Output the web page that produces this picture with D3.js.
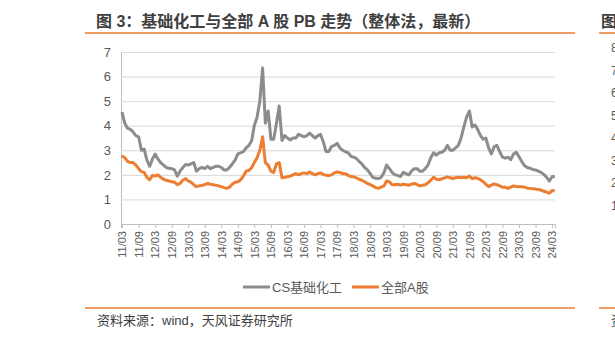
<!DOCTYPE html>
<html>
<head>
<meta charset="utf-8">
<script src="https://cdn.jsdelivr.net/npm/d3@7"></script>
<style>
  body { margin: 0; background: #fff; }
  svg { display: block; font-family: "Liberation Sans", Arial, "Noto Sans CJK SC", sans-serif; }
</style>
</head>
<body>
<svg id="chart" width="615" height="338"></svg>
<script>
// monthly readings, first point = 2011/03
const startMonth = new Date(2011, 2, 1);

const chemPB = [
  4.55, 4.1, 3.9, 3.85, 3.75, 3.6, 3.55, 3.0, 3.05, 2.6, 2.35, 2.65,
  2.85, 2.65, 2.5, 2.4, 2.3, 2.27, 2.25, 2.2, 1.95, 2.15, 2.3, 2.42,
  2.4, 2.45, 2.5, 2.15, 2.25, 2.3, 2.25, 2.35, 2.25, 2.3, 2.35, 2.35,
  2.3, 2.2, 2.2, 2.3, 2.45, 2.6, 2.85, 2.9, 2.95, 3.1, 3.2, 3.4,
  4.0, 4.35, 5.0, 6.35, 4.1, 4.6, 3.45, 3.45, 4.1, 4.8, 3.4, 3.6,
  3.5, 3.42, 3.5, 3.5, 3.65, 3.6, 3.55, 3.6, 3.7, 3.6, 3.5, 3.6,
  3.65, 3.35, 2.95, 2.95, 3.15, 3.2, 3.28, 3.1, 3.0, 2.94, 2.9, 2.75,
  2.72, 2.67, 2.55, 2.45, 2.3, 2.2, 2.05, 1.9, 1.86, 1.85, 1.9, 2.1,
  2.4, 2.25, 2.1, 2.0, 1.98, 1.93, 2.1, 2.05, 2.0, 2.15, 2.25, 2.25,
  2.15, 2.15, 2.25, 2.4, 2.7, 2.9, 2.8, 2.9, 2.92, 3.0, 3.2, 3.0,
  3.0, 3.1, 3.2, 3.5, 3.95, 4.35, 4.6, 3.95, 4.03, 3.85, 3.6, 3.45,
  3.5, 3.1, 2.85, 3.15, 3.2, 2.95, 2.72, 2.68, 2.72, 2.62, 2.85, 2.92,
  2.75, 2.55, 2.38, 2.3, 2.27, 2.22, 2.2, 2.15, 2.1, 2.02, 1.9, 1.75,
  1.92, 1.93
];

const allAPB = [
  2.78, 2.7, 2.55, 2.5, 2.5, 2.4, 2.25, 2.13, 2.1, 1.9, 1.8, 1.98,
  1.95, 2.0, 1.9, 1.82, 1.78, 1.75, 1.72, 1.7, 1.6, 1.65, 1.78, 1.85,
  1.75, 1.7, 1.6, 1.52, 1.55, 1.58, 1.6, 1.65, 1.62, 1.6, 1.58, 1.55,
  1.52, 1.48, 1.45, 1.5, 1.62, 1.7, 1.72, 1.8, 1.95, 2.15, 2.18, 2.3,
  2.5, 2.7, 3.0, 3.55, 2.5, 2.4, 2.15, 2.1, 2.45, 2.5, 1.88, 1.9,
  1.92, 1.95, 2.0, 2.05, 2.0, 2.05, 2.08, 2.05, 2.12, 2.05, 2.0, 2.05,
  2.08, 2.02, 1.98, 1.97, 2.0, 2.08, 2.12, 2.1, 2.05, 2.05, 1.98, 1.93,
  1.92, 1.88, 1.82, 1.78, 1.72, 1.65, 1.6, 1.55, 1.48, 1.45, 1.5, 1.55,
  1.75, 1.72, 1.6, 1.6, 1.62, 1.58, 1.62, 1.6, 1.58, 1.62, 1.65, 1.6,
  1.55, 1.58, 1.6, 1.68, 1.78, 1.9, 1.82, 1.8, 1.84, 1.88, 1.92, 1.88,
  1.85, 1.88, 1.9, 1.88, 1.9, 1.88, 1.95, 1.85, 1.88, 1.86, 1.8, 1.72,
  1.62, 1.52, 1.58, 1.63, 1.6, 1.55, 1.5, 1.5, 1.45, 1.5, 1.55, 1.53,
  1.52, 1.52, 1.5, 1.46, 1.45, 1.43, 1.42, 1.4, 1.38, 1.33, 1.3, 1.25,
  1.36, 1.34
];

const seriesNames = ['CS基础化工', '全部A股'];
const seriesColors = ['#8c8c8c', '#ed7d31'];
const yTicks = [0, 1, 2, 3, 4, 5, 6, 7];
// tick every six months, 11/03 .. 24/03
const xTickDates = d3.range(0, 27).map(i => d3.timeMonth.offset(startMonth, i * 6));

const titleText = '图 3：基础化工与全部 A 股 PB 走势（整体法，最新）';
const sourceText = '资料来源：wind，天风证券研究所';

const svg = d3.select('#chart');

const plot = {left: 121, right: 555, top: 52, bottom: 224};

const x = d3.scaleTime()
    .domain([new Date(2011, 1, 18), new Date(2024, 3, 3)])
    .range([plot.left, plot.right]);
const y = d3.scaleLinear().domain([0, 7]).range([plot.bottom, plot.top]);

const dates = chemPB.map((_, i) => d3.timeMonth.offset(startMonth, i));

// title and rules
svg.append('text')
    .attr('x', 96).attr('y', 27)
    .attr('font-size', 16).attr('font-weight', 'bold')
    .attr('fill', '#404040')
    .text(titleText);
svg.append('line').attr('x1', 85).attr('x2', 575).attr('y1', 33).attr('y2', 33)
    .attr('stroke', '#ed7d31').attr('stroke-width', 1.5);
svg.append('line').attr('x1', 85).attr('x2', 575).attr('y1', 308).attr('y2', 308)
    .attr('stroke', '#ed7d31').attr('stroke-width', 1.5);

// gridlines + y axis
const yAxis = svg.append('g')
    .attr('transform', `translate(${plot.left},0)`)
    .call(d3.axisLeft(y).tickValues(yTicks).tickFormat(d3.format('d'))
        .tickSize(-(plot.right - plot.left)).tickPadding(10));
yAxis.select('.domain').attr('stroke', '#bfbfbf');
yAxis.selectAll('.tick line').attr('stroke', d => d === 0 ? 'none' : '#d9d9d9');
yAxis.selectAll('.tick text')
    .attr('font-size', 13).attr('fill', '#595959')
    .attr('font-family', '"Liberation Sans", Arial, sans-serif');

// x axis
const xAxis = svg.append('g')
    .attr('transform', `translate(0,${plot.bottom})`)
    .call(d3.axisBottom(x).tickValues(xTickDates).tickFormat(d3.timeFormat('%y/%m')).tickSize(4));
xAxis.select('.domain').attr('stroke', '#bfbfbf');
xAxis.selectAll('.tick line').attr('stroke', '#bfbfbf');
xAxis.selectAll('.tick text')
    .attr('font-size', 11).attr('fill', '#595959')
    .attr('font-family', '"Liberation Sans", Arial, sans-serif')
    .attr('transform', 'rotate(-90)')
    .attr('text-anchor', 'end')
    .attr('x', -7).attr('y', 0).attr('dy', '0.35em');

// lines
const line = d3.line().x((d, i) => x(dates[i])).y(d => y(d));
[chemPB, allAPB].forEach((vals, k) => {
    svg.append('path')
        .datum(vals)
        .attr('fill', 'none')
        .attr('stroke', seriesColors[k])
        .attr('stroke-width', 3)
        .attr('stroke-linejoin', 'round')
        .attr('d', line);
});

// legend
const legendX = [243, 352];
seriesNames.forEach((name, k) => {
    const g = svg.append('g').attr('transform', `translate(${legendX[k]},287)`);
    g.append('line').attr('x1', 0).attr('x2', 27).attr('stroke', seriesColors[k]).attr('stroke-width', 3);
    g.append('text').attr('x', 29).attr('y', 0).attr('dy', '0.35em')
        .attr('font-size', 13).attr('fill', '#595959').text(name);
});

// source
svg.append('text')
    .attr('x', 97).attr('y', 325)
    .attr('font-size', 13).attr('fill', '#404040')
    .text(sourceText);

// edge of the neighbouring figure, cut by the frame as in the source page
svg.append('text').attr('x', 601).attr('y', 27)
    .attr('font-size', 16).attr('font-weight', 'bold').attr('fill', '#404040').text('图');
svg.append('line').attr('x1', 599).attr('x2', 615).attr('y1', 33).attr('y2', 33)
    .attr('stroke', '#ed7d31').attr('stroke-width', 1.5);
svg.append('line').attr('x1', 599).attr('x2', 615).attr('y1', 308).attr('y2', 308)
    .attr('stroke', '#ed7d31').attr('stroke-width', 1.5);
const nextTicks = ['8', '7', '6', '5', '4', '3', '2', '1'];
nextTicks.forEach((t, i) => {
    svg.append('text').attr('x', 611).attr('y', 48 + i * 22.5).attr('dy', '0.35em')
        .attr('font-size', 12).attr('fill', '#595959').text(t);
});
svg.append('text').attr('x', 611).attr('y', 325)
    .attr('font-size', 13).attr('fill', '#404040').text('资');
</script>
</body>
</html>
